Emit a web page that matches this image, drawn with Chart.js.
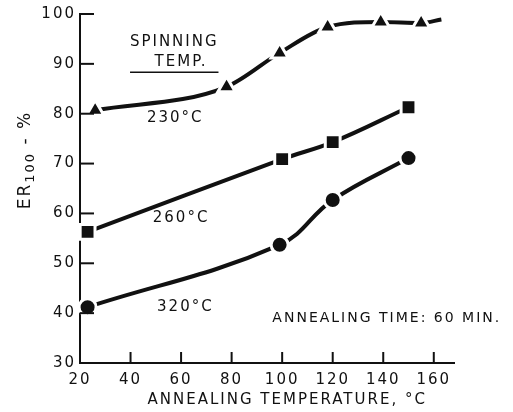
<!DOCTYPE html>
<html>
<head>
<meta charset="utf-8">
<script src="https://cdn.jsdelivr.net/npm/chart.js@4/dist/chart.umd.min.js"></script>
<style>
  html, body { margin: 0; padding: 0; background: #fff; }
  #wrap { width: 513px; height: 412px; }
</style>
</head>
<body>
<div id="wrap"><canvas id="er-chart" width="513" height="412"></canvas></div>
<script>
// Data
const xTicks = [20, 40, 60, 80, 100, 120, 140, 160];
const yTicks = [30, 40, 50, 60, 70, 80, 90, 100];

const temp230 = [26, 78, 99, 118, 139, 155, 163];
const er230 = [80.7, 85.4, 92.2, 97.4, 98.4, 98.2, 98.9];

const temp260 = [23, 100, 120, 150];
const er260 = [56.3, 70.9, 74.3, 81.3];

const temp320 = [23, 99, 120, 150];
const er320 = [41.2, 53.7, 62.7, 71.1];

const labels = ["SPINNING", "TEMP.", "230°C", "260°C", "320°C", "ANNEALING TIME: 60 MIN."];
const labelX = [57.3, 60, 57.7, 60, 61.7, 141.4];
const labelY = [94.3, 90.3, 79.1, 59.1, 41.2, 39];

const FONT = "'DejaVu Sans', sans-serif";
const INK = "#111";

function toPoints(xs, ys) {
  return xs.map((x, i) => ({ x: x, y: ys[i] }));
}

// wider lettering like the original
const spacing = {
  id: "spacing",
  beforeDraw(chart) {
    chart.ctx.letterSpacing = "2px";
  },
};

// inward tick marks, annotations and axis titles
const extras = {
  id: "extras",
  afterDraw(chart) {
    const ctx = chart.ctx;
    const xs = chart.scales.x;
    const ys = chart.scales.y;
    const area = chart.chartArea;
    ctx.save();
    ctx.letterSpacing = "2px";
    ctx.strokeStyle = INK;
    ctx.lineWidth = 2;
    yTicks.forEach((v) => {
      if (v === 30) return;
      const py = ys.getPixelForValue(v);
      ctx.beginPath();
      ctx.moveTo(area.left, py);
      ctx.lineTo(area.left + 14, py);
      ctx.stroke();
    });
    xTicks.forEach((v) => {
      if (v === 20) return;
      const px = xs.getPixelForValue(v);
      ctx.beginPath();
      ctx.moveTo(px, area.bottom);
      ctx.lineTo(px, area.bottom - 11);
      ctx.stroke();
    });

    ctx.fillStyle = INK;
    ctx.textAlign = "center";
    ctx.textBaseline = "middle";
    labels.forEach((t, i) => {
      ctx.font = (i === 5 ? "14px " : "15px ") + FONT;
      ctx.fillText(t, xs.getPixelForValue(labelX[i]), ys.getPixelForValue(labelY[i]));
    });
    // underline under SPINNING TEMP.
    ctx.lineWidth = 1.5;
    ctx.beginPath();
    ctx.moveTo(xs.getPixelForValue(39.8), ys.getPixelForValue(88.3));
    ctx.lineTo(xs.getPixelForValue(74.8), ys.getPixelForValue(88.3));
    ctx.stroke();

    // x axis title
    ctx.font = "15px " + FONT;
    ctx.fillText("ANNEALING TEMPERATURE, °C", xs.getPixelForValue(102), 400);

    // y axis title, rotated, with subscript
    ctx.translate(26, 160);
    ctx.rotate(-Math.PI / 2);
    ctx.textAlign = "left";
    ctx.font = "17px " + FONT;
    const w1 = ctx.measureText("ER").width;
    ctx.font = "13px " + FONT;
    const w2 = ctx.measureText("100").width;
    ctx.font = "17px " + FONT;
    const w3 = ctx.measureText(" - %").width;
    const start = -(w1 + w2 + w3) / 2;
    ctx.fillText("ER", start, 0);
    ctx.font = "13px " + FONT;
    ctx.fillText("100", start + w1, 5);
    ctx.font = "17px " + FONT;
    ctx.fillText(" - %", start + w1 + w2, 0);
    ctx.restore();
  },
};

const lineBase = {
  borderColor: INK,
  backgroundColor: INK,
  borderWidth: 4,
  pointBorderColor: "#fff",
  pointBorderWidth: 3,
  tension: 0.4,
  clip: false,
};

const config = {
  type: "scatter",
  data: {
    datasets: [
      Object.assign({}, lineBase, {
        label: "230°C",
        data: toPoints(temp230, er230),
        showLine: true,
        cubicInterpolationMode: "monotone",
        pointStyle: "triangle",
        pointRadius: [10, 10, 10, 10, 10, 10, 0],
      }),
      Object.assign({}, lineBase, {
        label: "260°C",
        data: toPoints(temp260, er260),
        showLine: true,
        pointStyle: "rect",
        pointRadius: 10.5,
      }),
      Object.assign({}, lineBase, {
        label: "320°C",
        data: toPoints(temp320, er320),
        showLine: true,
        pointStyle: "circle",
        pointRadius: 8.5,
      }),
    ],
  },
  options: {
    responsive: false,
    animation: false,
    events: [],
    layout: { padding: { top: 14, right: 59, left: 0, bottom: 0 } },
    plugins: {
      legend: { display: false },
      tooltip: { enabled: false },
    },
    scales: {
      x: {
        type: "linear",
        min: 20,
        max: 168,
        grid: { display: false, drawTicks: false },
        border: { display: true, color: INK, width: 2 },
        ticks: {
          stepSize: 20,
          includeBounds: false,
          padding: 8,
          color: INK,
          font: { family: FONT, size: 15 },
        },
        afterFit(scale) {
          scale.height = 49;
        },
      },
      y: {
        type: "linear",
        min: 30,
        max: 100,
        grid: { display: false, drawTicks: false },
        border: { display: true, color: INK, width: 2 },
        ticks: {
          stepSize: 10,
          padding: 4,
          color: INK,
          font: { family: FONT, size: 15 },
        },
        afterFit(scale) {
          scale.width = 80;
        },
      },
    },
  },
  plugins: [spacing, extras],
};

const erChart = new Chart(document.getElementById("er-chart"), config);
</script>
</body>
</html>
